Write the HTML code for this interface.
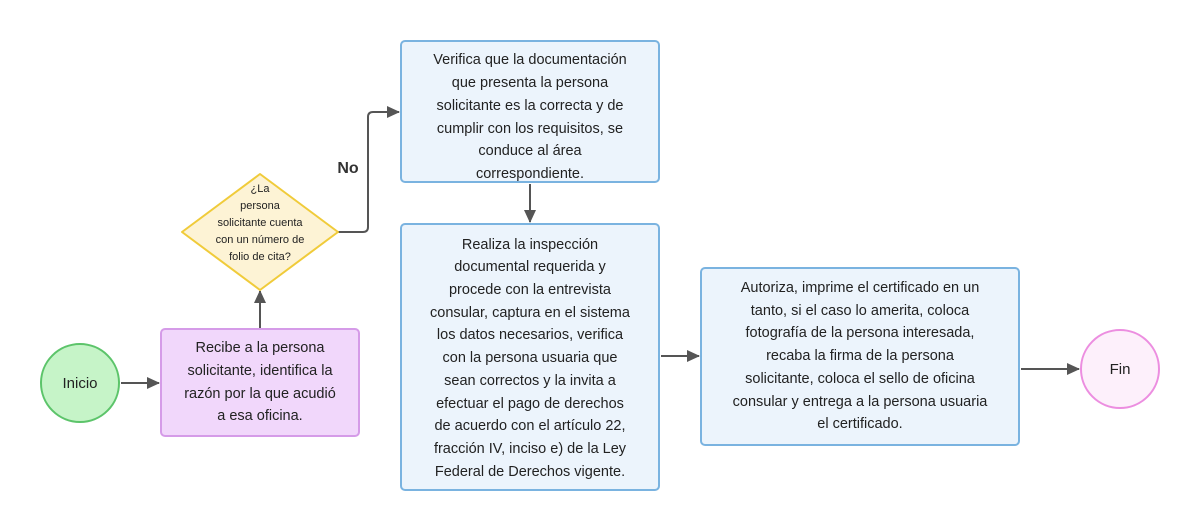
<!DOCTYPE html>
<html><head><meta charset="utf-8"><style>
body{margin:0;width:1200px;height:532px;background:#fff;position:relative;overflow:hidden;font-family:"Liberation Sans",sans-serif;color:#222}
.b{position:absolute;box-sizing:border-box;display:flex;align-items:center;justify-content:center;text-align:center;font-size:14.5px;line-height:22.7px;border-radius:5px}
.blue{background:#ecf4fc;border:2px solid #7ab3e0}
.c{position:absolute;box-sizing:border-box;border-radius:50%;display:flex;align-items:center;justify-content:center;font-size:15px}
</style></head><body>
<svg width="1200" height="532" style="position:absolute;left:0;top:0">
<defs><marker id="a" markerWidth="13" markerHeight="13" refX="12" refY="6" orient="auto" markerUnits="userSpaceOnUse"><path d="M0,0 L13,6 L0,12z" fill="#555"/></marker></defs>
<g stroke="#555" stroke-width="2" fill="none">
<line x1="121" y1="383" x2="159" y2="383" marker-end="url(#a)"/>
<line x1="260" y1="328" x2="260" y2="291" marker-end="url(#a)"/>
<path d="M338,232 H363 Q368,232 368,227 V117 Q368,112 373,112 H399" marker-end="url(#a)"/>
<line x1="530" y1="184" x2="530" y2="222" marker-end="url(#a)"/>
<line x1="661" y1="356" x2="699" y2="356" marker-end="url(#a)"/>
<line x1="1021" y1="369" x2="1079" y2="369" marker-end="url(#a)"/>
</g>
<polygon points="260,174 338,232 260,290 182,232" fill="#fdf3d5" stroke="#f0cb3a" stroke-width="2" stroke-linejoin="round"/>
<text x="348" y="173" font-family="Liberation Sans" font-weight="bold" font-size="16" fill="#333" text-anchor="middle">No</text>
</svg>
<div style="position:absolute;left:200px;top:181px;width:120px;text-align:center;font-size:11px;line-height:17px">¿La<br>persona<br>solicitante cuenta<br>con un número de<br>folio de cita?</div>
<div class="c" style="left:40px;top:343px;width:80px;height:80px;background:#c6f4c8;border:2px solid #5cc46a">Inicio</div>
<div class="c" style="left:1080px;top:329px;width:80px;height:80px;background:#fdf0fb;border:2px solid #ec8ee0">Fin</div>
<div class="b" style="left:160px;top:328px;width:200px;height:109px;background:#f1d7fb;border:2px solid #d59be8">Recibe a la persona<br>solicitante, identifica la<br>razón por la que acudió<br>a esa oficina.</div>
<div class="b blue" style="left:400px;top:40px;width:260px;height:143px;padding-top:12px">Verifica que la documentación<br>que presenta la persona<br>solicitante es la correcta y de<br>cumplir con los requisitos, se<br>conduce al área<br>correspondiente.</div>
<div class="b blue" style="left:400px;top:223px;width:260px;height:268px;padding-top:3px">Realiza la inspección<br>documental requerida y<br>procede con la entrevista<br>consular, captura en el sistema<br>los datos necesarios, verifica<br>con la persona usuaria que<br>sean correctos y la invita a<br>efectuar el pago de derechos<br>de acuerdo con el artículo 22,<br>fracción IV, inciso e) de la Ley<br>Federal de Derechos vigente.</div>
<div class="b blue" style="left:700px;top:267px;width:320px;height:179px">Autoriza, imprime el certificado en un<br>tanto, si el caso lo amerita, coloca<br>fotografía de la persona interesada,<br>recaba la firma de la persona<br>solicitante, coloca el sello de oficina<br>consular y entrega a la persona usuaria<br>el certificado.</div>
</body></html>
